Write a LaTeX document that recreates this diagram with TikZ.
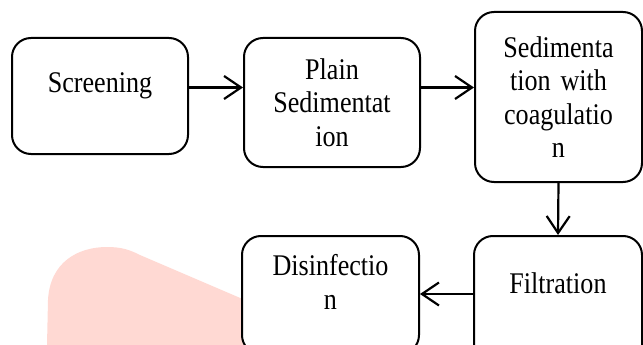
\documentclass[tikz,border=0pt]{standalone}
\usepackage{fontspec}
\setmainfont{Liberation Serif}[FakeStretch=0.87]
\usepackage{tikz}
\usetikzlibrary{arrows.meta}
\definecolor{blobpink}{RGB}{255, 217, 211}
\newcommand\stagefont{\fontsize{30pt}{33.5pt}\selectfont}
\tikzset{
  % process box
  stage/.style={draw, fill=white, rounded corners=19pt, line width=2pt, align=center, inner sep=0pt, anchor=north, font=\stagefont},
  % connector
  flow/.style={line width=2.2pt, -{Straight Barb[length=17pt, width=23pt]}},
  % watermark
  blob/.style={fill=blobpink, draw=none}
}
\begin{document}
\begin{tikzpicture}[x=1pt, y=-1pt]
  \path[use as bounding box, clip] (0,0) rectangle (643,345);
  \fill[blob] (47,345) -- (48,300) .. controls (50,262) and (78,247) .. (107,247)
     .. controls (122,247) and (130,250) .. (140,255) -- (245,300) -- (245,345) -- cycle;
  %%%%%%%%%%%%%%%%%%%%%%%%%%%%%%%%%%%%%%%
  \node[stage, text width=176pt, minimum height=116pt, text depth=26pt] (screen) at (100,37) {Screening};
  \node[stage, text width=176pt, minimum height=129pt] (plain) at (332,37) {Plain\\Sedimentat\\ion};
  \node[stage, text width=167pt, minimum height=170pt] (sed) at (558.5,11) {Sedimenta\\tion with\\coagulatio\\n};
  %%%%%%%%%%%%%%%%%%%%%%%%%%%%%%%%%%%%%%%
  \node[stage, text width=168pt, minimum height=130pt, text depth=36pt] (filt) at (558,235) {Filtration};
  \node[stage, text width=177pt, inner ysep=18.5pt, text depth=60pt] (dis) at (330.5,235) {Disinfectio\\n};
  %%%%%%%%%%%%%%%%%%%%%%%%%%%%%%%%%%%%%%%
  \coordinate (toprow) at (0,87.5);
  \coordinate (botrow) at (0,294);
  \draw[flow] (screen.east |- toprow) -- (plain.west |- toprow);
  \draw[flow] (plain.east |- toprow) -- (sed.west |- toprow);
  \draw[flow] (sed.south) -- (filt.north);
  \draw[flow] (filt.west |- botrow) -- (dis.east |- botrow);
\end{tikzpicture}
\end{document}
